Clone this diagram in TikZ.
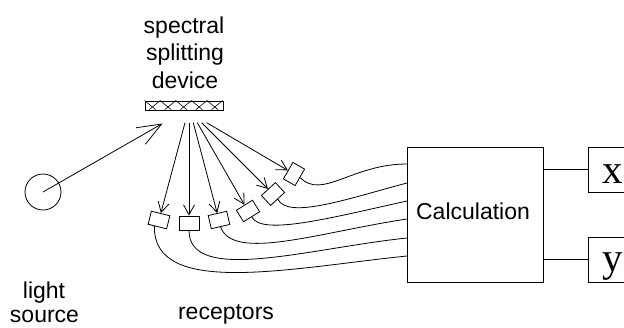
\documentclass[tikz,border=0pt]{standalone}
\usepackage{fontspec}
\setmainfont{Liberation Sans}
\newfontfamily\serifx{Liberation Serif}
\usetikzlibrary{arrows.meta,calc}
\begin{document}
\begin{tikzpicture}[x=1pt,y=-1pt,line width=0.8pt,
  lbl/.style={font=\fontsize{23}{27.5}\selectfont,inner sep=0pt,anchor=base},
  var/.style={font=\serifx\fontsize{41}{41}\selectfont,inner sep=0pt,anchor=base},
  rec/.style={draw,minimum width=19pt,minimum height=13.5pt,inner sep=0pt},
  ray/.style={-{Straight Barb[length=10pt,width=11pt]}},
  boxx/.style={draw,inner sep=0pt}]
\useasboundingbox (0,0) rectangle (624,327);
% texts
\node[lbl] (t1) at (184,33) {spectral};
\node[lbl] (t2) at (185,60.5) {splitting};
\node[lbl] (t3) at (185,88) {device};
\node[lbl] (l1) at (44,298) {light};
\node[lbl] (l2) at (44.5,322) {source};
\node[lbl] (rc) at (226,319) {receptors};
% grating
\node[boxx,minimum width=78pt,minimum height=9pt] (grat) at (184,105.5) {};
\foreach \i in {0,...,4}{
  \draw[line width=0.6pt] ($(grat.north west)+(15.6*\i,0)$) -- ++(11,9);
  \draw[line width=0.6pt] ($(grat.north west)+(15.6*\i+15.6,0)$) -- ++(-11,9);
}
% light source
\node[draw,circle,minimum size=36pt,inner sep=0pt] (src) at (43,192) {};
\coordinate (hit) at (162.5,123.5);
\draw[-{Straight Barb[length=24pt,width=19pt]}] (src.center) -- (hit);
% receptors
\node[rec,rotate=-14] (R1) at (159,220) {};
\node[rec,minimum width=20pt,minimum height=14pt] (R2) at (189,223) {};
\node[rec,rotate=13] (R3) at (219,220) {};
\node[rec,rotate=32] (R4) at (248,211) {};
\node[rec,rotate=43] (R5) at (273,194) {};
\node[rec,rotate=60] (R6) at (294,174) {};
% ray origins
\coordinate (o1) at (185,122.7);
\coordinate (o2) at (189,122.7);
\coordinate (o3) at (193.3,122.7);
\coordinate (o4) at (197.3,122.7);
\coordinate (o5) at (201.7,122.7);
\coordinate (o6) at (206.7,122.7);
\draw[ray] (o1) -- (R1);
\draw[ray] (o2) -- (R2);
\draw[ray] (o3) -- (R3);
\draw[ray] (o4) -- (R4);
\draw[ray] (o5) -- (R5);
\draw[ray] (o6) -- (R6);
% calculation box
\node[boxx,minimum width=136pt,minimum height=135pt] (calc) at (475,214.5) {};
\node[lbl] (calctext) at (473,219) {Calculation};
\coordinate (in1) at (407,256);
\coordinate (in2) at (407,238);
\coordinate (in3) at (407,219);
\coordinate (in4) at (407,201);
\coordinate (in5) at (407,183);
\coordinate (in6) at (407,164);
% wires
\draw ($(R1.south west)!0.35!(R1.south east)$) .. controls (153,298) and (290,268) .. (in1);
\draw (R2.south) .. controls (189,285) and (310,248) .. (in2);
\draw (R3.south) .. controls (233,262) and (320,232) .. (in3);
\draw (R4.south) .. controls (262,236) and (330,218) .. (in4);
\draw (R5.south) .. controls (288,220) and (350,198) .. (in5);
\draw (R6.south) .. controls (322,200) and (352,164) .. (in6);
% outputs
\node[boxx,minimum width=52pt,minimum height=45pt] (xbox) at (614,169.5) {};
\node[boxx,minimum width=52pt,minimum height=45pt] (ybox) at (614,259.5) {};
\node[var] (xt) at (613,183) {x};
\node[var] (yt) at (613,271) {y};
\draw (calc.east |- xbox.west) -- (xbox.west);
\draw (calc.east |- ybox.west) -- (ybox.west);
\end{tikzpicture}
\end{document}
